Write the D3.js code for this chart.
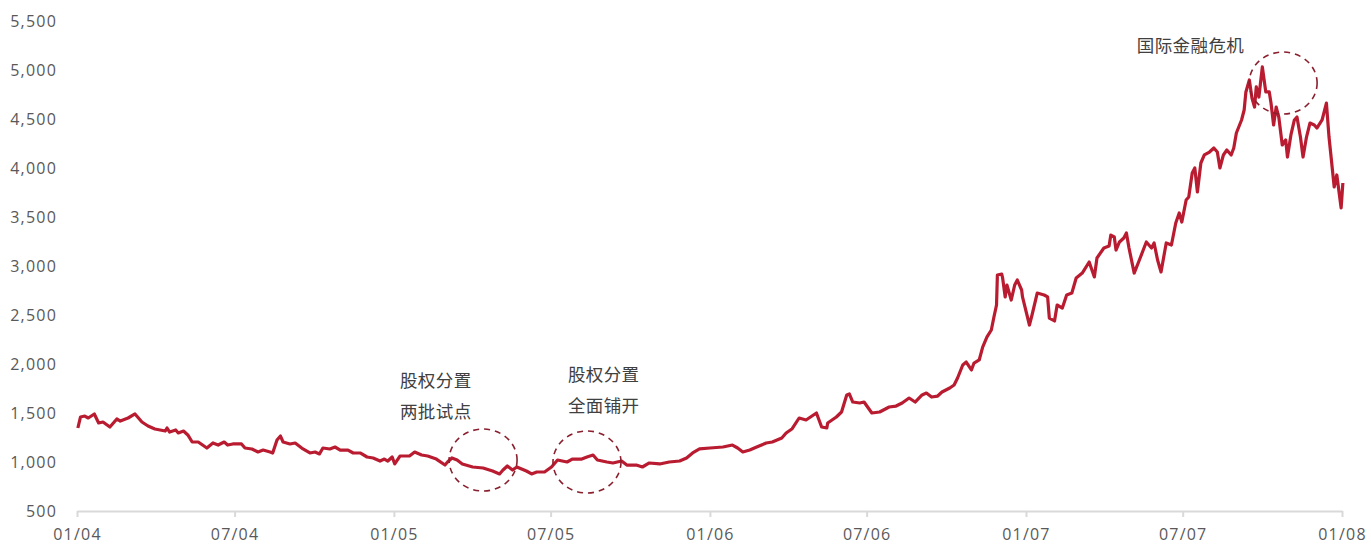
<!DOCTYPE html>
<html>
<head>
<meta charset="utf-8">
<script src="https://cdn.jsdelivr.net/npm/d3@7"></script>
<style>
  body { margin: 0; background: #fff; }
  svg text { font-family: "Open Sans", "Noto Sans CJK SC", sans-serif; }
  .tick text { fill: #595959; font-size: 16px; letter-spacing: 1.2px; }
  .x-axis .domain, .x-axis .tick line { stroke: #d9d9d9; stroke-width: 2; }
  .y-axis .domain { display: none; }
  .note { fill: #404040; font-size: 17.5px; letter-spacing: 0.4px; font-family: "Noto Sans CJK SC", sans-serif; }
  .ring { fill: none; stroke: #8a1f2e; stroke-width: 1.6; stroke-dasharray: 6 5; }
  .index-line { fill: none; stroke: #b91c30; stroke-width: 3.2; stroke-linejoin: round; }
</style>
</head>
<body>
<script>
const dates = [
  '2004-01-02','2004-01-05','2004-01-10','2004-01-14','2004-01-21','2004-01-26','2004-01-31','2004-02-08','2004-02-16','2004-02-20',
  '2004-02-29','2004-03-08','2004-03-16','2004-03-23','2004-03-31','2004-04-12','2004-04-14','2004-04-17','2004-04-24','2004-04-27',
  '2004-05-03','2004-05-08','2004-05-13','2004-05-20','2004-05-25','2004-05-30','2004-06-06','2004-06-12','2004-06-19','2004-06-23',
  '2004-06-29','2004-07-09','2004-07-13','2004-07-21','2004-07-28','2004-08-03','2004-08-11','2004-08-14','2004-08-19','2004-08-23',
  '2004-08-26','2004-09-03','2004-09-09','2004-09-18','2004-09-26','2004-10-02','2004-10-07','2004-10-11','2004-10-19','2004-10-25',
  '2004-10-31','2004-11-09','2004-11-15','2004-11-23','2004-12-01','2004-12-08','2004-12-16','2004-12-21','2004-12-25','2004-12-30',
  '2005-01-02','2005-01-08','2005-01-19','2005-01-25','2005-02-02','2005-02-09','2005-02-19','2005-03-01','2005-03-04','2005-03-09',
  '2005-03-15','2005-03-21','2005-04-02','2005-04-14','2005-04-25','2005-05-03','2005-05-07','2005-05-12','2005-05-18','2005-05-23',
  '2005-06-03','2005-06-09','2005-06-15','2005-06-24','2005-07-02','2005-07-09','2005-07-20','2005-07-26','2005-08-06','2005-08-12',
  '2005-08-19','2005-08-24','2005-09-04','2005-09-11','2005-09-21','2005-09-27','2005-10-08','2005-10-15','2005-10-23','2005-11-04',
  '2005-11-15','2005-11-27','2005-12-05','2005-12-12','2005-12-20','2006-01-01','2006-01-16','2006-01-27','2006-02-02','2006-02-08',
  '2006-02-16','2006-02-24','2006-03-07','2006-03-14','2006-03-25','2006-03-30','2006-04-06','2006-04-14','2006-04-22','2006-05-04',
  '2006-05-10','2006-05-16','2006-05-17','2006-05-27','2006-06-02','2006-06-08','2006-06-11','2006-06-15','2006-06-23','2006-06-28',
  '2006-07-07','2006-07-16','2006-07-27','2006-08-04','2006-08-11','2006-08-19','2006-08-26','2006-09-03','2006-09-08','2006-09-14',
  '2006-09-21','2006-09-26','2006-10-05','2006-10-10','2006-10-14','2006-10-20','2006-10-24','2006-10-30','2006-11-02','2006-11-08',
  '2006-11-12','2006-11-17','2006-11-22','2006-11-25','2006-11-28','2006-11-29','2006-12-04','2006-12-05','2006-12-08','2006-12-10',
  '2006-12-15','2006-12-19','2006-12-22','2006-12-27','2006-12-28','2007-01-05','2007-01-08','2007-01-14','2007-01-22','2007-01-26',
  '2007-01-28','2007-02-03','2007-02-06','2007-02-12','2007-02-17','2007-02-23','2007-02-28','2007-03-07','2007-03-15','2007-03-21',
  '2007-03-24','2007-04-01','2007-04-07','2007-04-09','2007-04-13','2007-04-15','2007-04-19','2007-04-24','2007-04-27','2007-04-30',
  '2007-05-06','2007-05-12','2007-05-20','2007-05-26','2007-05-29','2007-06-02','2007-06-06','2007-06-12','2007-06-18','2007-06-23',
  '2007-06-27','2007-06-30','2007-07-05','2007-07-08','2007-07-12','2007-07-15','2007-07-18','2007-07-22','2007-07-26','2007-08-01',
  '2007-08-06','2007-08-10','2007-08-13','2007-08-17','2007-08-21','2007-08-26','2007-08-29','2007-09-01','2007-09-07','2007-09-10',
  '2007-09-12','2007-09-16','2007-09-19','2007-09-22','2007-09-24','2007-09-27','2007-10-01','2007-10-05','2007-10-09','2007-10-11',
  '2007-10-14','2007-10-17','2007-10-20','2007-10-24','2007-10-28','2007-10-30','2007-11-03','2007-11-07','2007-11-10','2007-11-14',
  '2007-11-17','2007-11-21','2007-11-25','2007-11-30','2007-12-03','2007-12-09','2007-12-14','2007-12-17','2007-12-23','2007-12-26',
  '2007-12-31','2008-01-02'
]

const values = [
  1347,1459,1469,1449,1490,1398,1408,1357,1439,1418,
  1449,1490,1408,1367,1337,1316,1347,1306,1327,1296,
  1316,1276,1204,1204,1173,1143,1194,1173,1204,1173,
  1184,1184,1143,1133,1102,1122,1102,1092,1224,1265,
  1204,1184,1194,1133,1092,1102,1082,1143,1133,1153,
  1122,1122,1092,1092,1051,1041,1010,1030,1010,1051,
  980,1061,1061,1102,1071,1061,1030,969,1000,1041,
  1020,980,949,939,908,878,918,959,918,949,
  908,878,898,898,949,1020,1000,1030,1030,1051,
  1071,1020,1000,990,1010,969,969,949,990,980,
  1000,1010,1041,1092,1133,1143,1153,1173,1143,1102,
  1122,1153,1194,1204,1245,1296,1340,1449,1429,1500,
  1357,1347,1398,1459,1510,1684,1694,1612,1602,1612,
  1500,1510,1561,1571,1602,1653,1612,1684,1704,1663,
  1673,1714,1755,1786,1857,1990,2020,1939,2010,2041,
  2173,2276,2347,2480,2602,2908,2918,2880,2684,2806,
  2653,2806,2857,2755,2684,2398,2500,2724,2704,2684,
  2469,2439,2602,2571,2704,2724,2878,2928,3041,2888,
  3082,3184,3204,3316,3296,3163,3245,3286,3337,3184,
  2928,3061,3245,3184,3235,3061,2939,3235,3214,3439,
  3541,3449,3673,3704,3949,4000,3755,4051,4133,4163,
  4204,4163,4000,4133,4184,4133,4204,4357,4490,4592,
  4776,4898,4714,4622,4827,4724,5031,4776,4776,4663,
  4439,4622,4520,4235,4286,4112,4337,4490,4520,4316,
  4112,4316,4459,4439,4408,4490,4663,4316,3806,3929,
  3592,3847
]

const yTicks = [500, 1000, 1500, 2000, 2500, 3000, 3500, 4000, 4500, 5000, 5500]

// annotation rings: centre date/value, label lines with anchor date/value
const notes = [
  { at: '2005-04-14', v: 1020, labelAt: '2005-01-08', labelV: 1830, lines: ['股权分置', '两批试点'] },
  { at: '2005-08-12', v: 1000, labelAt: '2005-07-21', labelV: 1890, lines: ['股权分置', '全面铺开'] },
  { at: '2007-10-25', v: 4867, labelAt: '2007-05-09', labelV: 5245, lines: ['国际金融危机'] }
]

const width = 1371
const height = 547
const margin = { top: 21, right: 29, bottom: 36, left: 77 }

const parse = d3.timeParse('%Y-%m-%d')
const data = dates.map((d, i) => ({ date: parse(d), value: values[i] }))

const x = d3.scaleTime()
  .domain([parse('2004-01-01'), parse('2008-01-01')])
  .range([margin.left, width - margin.right])

const y = d3.scaleLinear()
  .domain([500, 5500])
  .range([height - margin.bottom, margin.top])

const svg = d3.select('body')
  .append('svg')
  .attr('width', width)
  .attr('height', height)

svg.append('g')
  .attr('class', 'x-axis')
  .attr('transform', `translate(0,${y(500)})`)
  .call(d3.axisBottom(x)
    .ticks(d3.timeMonth.every(6))
    .tickFormat(d3.timeFormat('%m/%y'))
    .tickSize(6)
    .tickSizeOuter(0)
    .tickPadding(12))

svg.append('g')
  .attr('class', 'y-axis')
  .attr('transform', `translate(${margin.left},0)`)
  .call(d3.axisLeft(y)
    .tickValues(yTicks)
    .tickFormat(d3.format(','))
    .tickSize(0)
    .tickPadding(20))

const line = d3.line()
  .x(d => x(d.date))
  .y(d => y(d.value))

svg.append('path')
  .datum(data)
  .attr('class', 'index-line')
  .attr('d', line)

const ann = svg.append('g')

ann.selectAll('ellipse')
  .data(notes)
  .join('ellipse')
  .attr('class', 'ring')
  .attr('cx', d => x(parse(d.at)))
  .attr('cy', d => y(d.v))
  .attr('rx', 34)
  .attr('ry', 31)

notes.forEach(n => {
  n.lines.forEach((t, i) => {
    ann.append('text')
      .attr('class', 'note')
      .attr('x', x(parse(n.labelAt)))
      .attr('y', y(n.labelV) + i * 31)
      .attr('dy', '0.35em')
      .text(t)
  })
})
</script>
</body>
</html>
